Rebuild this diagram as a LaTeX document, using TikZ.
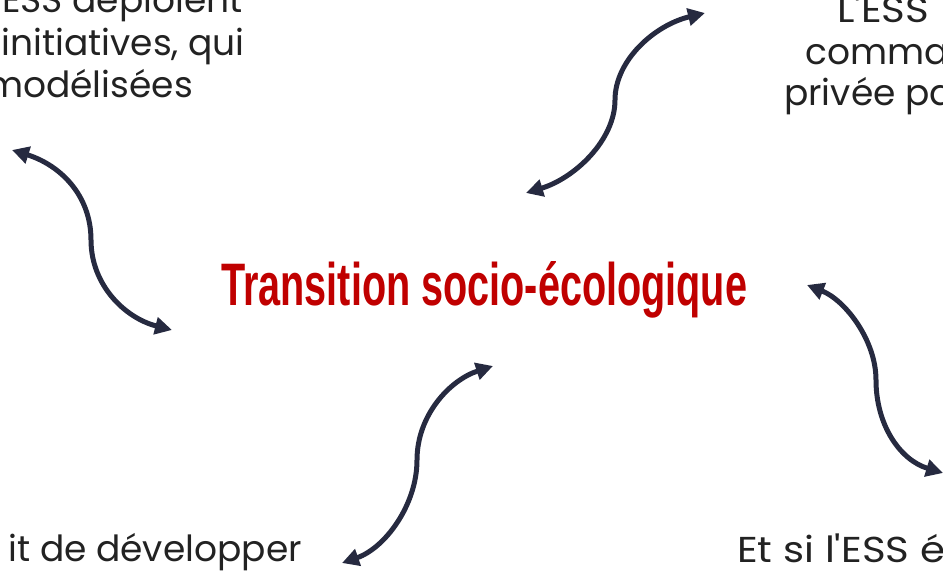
\documentclass[tikz,border=0pt]{standalone}
\usepackage{fontspec}
\usepackage{graphicx}
\setmainfont{Poppins}[Ligatures=TeXOff]
\newfontfamily\titlefont{Liberation Sans}
\usetikzlibrary{arrows.meta}
\definecolor{arrowcol}{RGB}{38,42,64}
\definecolor{titlered}{RGB}{192,0,0}
\definecolor{textgray}{RGB}{34,34,34}
\begin{document}
\begin{tikzpicture}[x=1pt,y=-1pt,
  bodytext/.style={font=\fontsize{36}{42}\selectfont, text=textgray, inner sep=0pt},
  link/.style={draw=arrowcol, line width=5pt, {Triangle[length=17pt,width=17pt]}-{Triangle[length=17pt,width=17pt]}}]
\useasboundingbox (0,0) rectangle (943,573);
\clip (0,0) rectangle (943,573);
\node[anchor=base west, inner sep=0pt, text=titlered] (title) at (221,305)
  {\resizebox{526pt}{\height}{\titlefont\bfseries\fontsize{60}{60}\selectfont Transition socio-écologique}};
\node[bodytext, anchor=base east] (tl1) at (243,12) {ESS déploient};
\node[bodytext, anchor=base east] (tl2) at (245,55) {initiatives, qui};
\node[bodytext, anchor=base east] (tl3) at (193,97) {modélisées};
\node[bodytext, anchor=base west] (tr1) at (837,22) {\scalebox{1.12}[1]{L'ESS}};
\node[bodytext, anchor=base west] (tr2) at (805,64) {comma};
\node[bodytext, anchor=base west] (tr3) at (784,105) {privée pa};
\node[bodytext, anchor=base east] (bl) at (302,561) {it de développer};
\node[bodytext, anchor=base west] (br) at (737,562) {\scalebox{1.12}[1]{Et si l'ESS é}};
\coordinate (a1s) at (12,150); \coordinate (a1m) at (91,240); \coordinate (a1e) at (172,330);
\coordinate (a2s) at (526,193); \coordinate (a2m) at (615,100); \coordinate (a2e) at (705,13);
\coordinate (a3s) at (342,563); \coordinate (a3m) at (417,460); \coordinate (a3e) at (493,366);
\coordinate (a4s) at (807,285); \coordinate (a4m) at (876,380); \coordinate (a4e) at (943,473);
\draw[link] (a1s) .. controls (60,165) and (91,195) .. (a1m) .. controls (91,285) and (125,318) .. (a1e);
\draw[link] (a2s) .. controls (575,178) and (615,140) .. (a2m) .. controls (615,60) and (655,25) .. (a2e);
\draw[link] (a3s) .. controls (385,548) and (417,505) .. (a3m) .. controls (417,415) and (450,380) .. (a3e);
\draw[link] (a4s) .. controls (845,300) and (876,340) .. (a4m) .. controls (876,425) and (900,460) .. (a4e);
\end{tikzpicture}
\end{document}
